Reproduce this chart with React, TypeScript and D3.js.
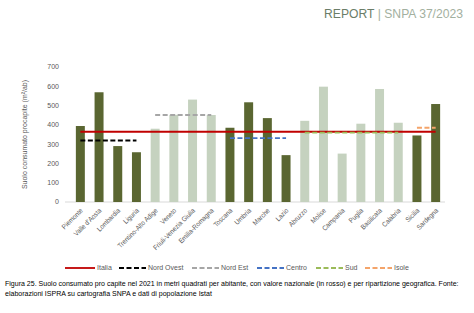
import React from 'react';
import { scaleBand, scaleLinear } from 'd3';

const width = 474;
const height = 313;
const margin = { top: 67, right: 29, bottom: 111, left: 71 };

const regions = [
  'Piemonte', "Valle d'Aosta", 'Lombardia', 'Liguria', 'Trentino-Alto Adige', 'Veneto',
  'Friuli-Venezia Giulia', 'Emilia-Romagna', 'Toscana', 'Umbria', 'Marche', 'Lazio',
  'Abruzzo', 'Molise', 'Campania', 'Puglia', 'Basilicata', 'Calabria', 'Sicilia', 'Sardegna',
];
const values = [394, 569, 290, 258, 380, 452, 531, 451, 385, 517, 435, 243, 421, 598, 251, 406, 586, 411, 345, 508];
const lightRegions = [
  'Trentino-Alto Adige', 'Veneto', 'Friuli-Venezia Giulia', 'Emilia-Romagna',
  'Abruzzo', 'Molise', 'Campania', 'Puglia', 'Basilicata', 'Calabria',
];
const yTicks = [0, 100, 200, 300, 400, 500, 600, 700];

const refNames = ['Italia', 'Nord Ovest', 'Nord Est', 'Centro', 'Sud', 'Isole'];
const refValues = [364, 319, 451, 331, 360, 385];
const refFrom = ['Piemonte', 'Piemonte', 'Trentino-Alto Adige', 'Toscana', 'Abruzzo', 'Sicilia'];
const refTo = ['Sardegna', 'Liguria', 'Emilia-Romagna', 'Lazio', 'Calabria', 'Sardegna'];
const refColors = ['#c00000', '#000000', '#a6a6a6', '#4472c4', '#9bbb59', '#f4a46a'];

const legendX = [65, 119, 192, 257, 316, 365];
const font = '"Liberation Sans", Arial, sans-serif';

const App = () => {
  const innerWidth = width - margin.left - margin.right;
  const innerHeight = height - margin.top - margin.bottom;

  const x = scaleBand().domain(regions).range([0, innerWidth]).paddingInner(0.52).paddingOuter(0.26);
  const y = scaleLinear().domain([0, 700]).range([innerHeight, 0]);
  const cx = (r: string) => (x(r) as number) + x.bandwidth() / 2;

  return (
    <svg width={width} height={height} style={{ position: 'absolute', left: 0, top: 0, fontFamily: font }}>
      <rect width={width} height={height} fill="#fff" />
      <g transform="translate(463,18) scale(0.9,1)">
        <text x={0} y={0} textAnchor="end" fontSize={13.5}>
          <tspan fill="#6b7d68">REPORT</tspan>
          <tspan fill="#a3b0a0"> | SNPA 37/2023</tspan>
        </text>
      </g>

      <g transform={`translate(${margin.left},${margin.top})`}>
        <line x1={-6} x2={innerWidth} y1={innerHeight} y2={innerHeight} stroke="#d9d9d9" strokeWidth={1} />
        {yTicks.map(t => (
          <text key={t} x={-12} y={y(t)} dy="0.35em" textAnchor="end" fontSize={7} fill="#595959">{t}</text>
        ))}
        <text
          transform={`translate(${-44},${innerHeight / 2}) rotate(-90) scale(0.92,1)`}
          textAnchor="middle" fontSize={7.6} fill="#595959"
        >
          Suolo consumato procapite (m²/ab)
        </text>

        {regions.map((r, i) => (
          <rect
            key={r}
            x={x(r)}
            y={y(values[i])}
            width={x.bandwidth()}
            height={innerHeight - y(values[i])}
            fill={lightRegions.includes(r) ? '#c5d2bf' : '#5a6631'}
          />
        ))}

        {refNames.map((n, i) => (
          <line
            key={n}
            x1={cx(refFrom[i])}
            x2={cx(refTo[i])}
            y1={y(refValues[i])}
            y2={y(refValues[i])}
            stroke={refColors[i]}
            strokeWidth={i === 0 ? 2 : 1.8}
            strokeDasharray={i === 0 ? undefined : '5 2.5'}
          />
        ))}

        {regions.map(r => (
          <text
            key={r}
            transform={`translate(${cx(r) + 3},${innerHeight + 9}) rotate(-45) scale(0.9,1)`}
            textAnchor="end" fontSize={7} fill="#595959"
          >
            {r}
          </text>
        ))}
      </g>

      <g transform="translate(0,268)">
        {refNames.map((n, i) => (
          <g key={n} transform={`translate(${legendX[i]},0)`}>
            <line
              x1={0} x2={i === 0 ? 30 : 27} y1={0} y2={0}
              stroke={refColors[i]} strokeWidth={1.8}
              strokeDasharray={i === 0 ? undefined : '5 2.5'}
            />
            <text x={i === 0 ? 32 : 29} y={0} dy="0.35em" fontSize={7} fill="#595959">{n}</text>
          </g>
        ))}
      </g>

      <g transform="translate(5,286) scale(0.965,1)">
        <text x={0} y={0} fontSize={7.3} fill="#000">
          Figura 25. Suolo consumato pro capite nel 2021 in metri quadrati per abitante, con valore nazionale (in rosso) e per ripartizione geografica. Fonte:
        </text>
        <text x={0} y={10} fontSize={7.3} fill="#000">
          elaborazioni ISPRA su cartografia SNPA e dati di popolazione Istat
        </text>
      </g>
    </svg>
  );
};

export default App;
